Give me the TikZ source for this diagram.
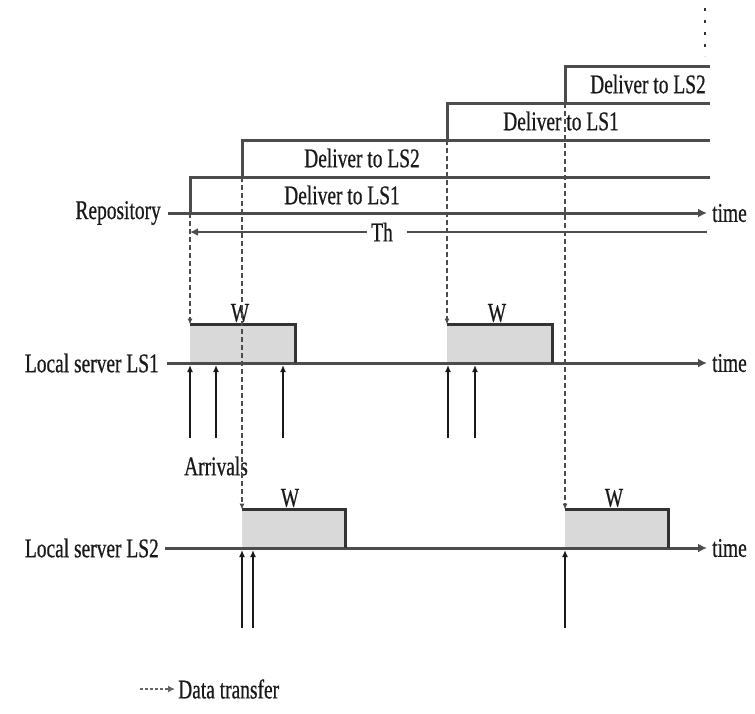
\documentclass[tikz,border=0pt]{standalone}
\usepackage{fontspec}
\setmainfont{Liberation Serif}[FakeStretch=0.72,FakeBold=0.6]
\usetikzlibrary{arrows.meta}
\begin{document}
\begin{tikzpicture}[x=1pt,y=-1pt,
 lbl/.style={font=\fontsize{27}{29}\selectfont, inner sep=0pt, text=black!90},
 timeaxis/.style={draw=black!70, line width=3pt, -{Latex[length=9pt,width=9pt]}, shorten >=5pt},
 stepline/.style={draw=black!70, line width=3pt},
 xfer/.style={draw=black!70, line width=1.4pt, dash pattern=on 5pt off 3pt, -{Latex[length=6pt,width=5pt]}},
 arrival/.style={draw=black!90, line width=1.4pt, -{Latex[length=7pt,width=6pt]}},
 wbox/.style={fill=black!15, draw=none, inner sep=0pt, anchor=south west},
 wedge/.style={draw=black!80, line width=2.8pt},
]
\path[use as bounding box] (0,0) rectangle (755,713);

% ---------- Repository ----------
\node[lbl, anchor=east] (rep) at (161,213) {Repository};
\node[lbl, anchor=west] (rtime) at (712,213) {time};
\coordinate (r0) at (168,213);
\draw[timeaxis] (r0) -- (rtime.west);

% Th line
\node[lbl] (th) at (382,232) {Th};
\coordinate (thL) at (190,232);
\coordinate (thR) at (707,232);
\draw[stepline, line width=2.4pt, {Latex[length=8pt,width=8pt]}-, shorten >=4pt] (thL) -- (th.west);
\draw[stepline, line width=2.4pt, shorten <=14pt] (th.east) -- (thR);

% steps
\coordinate (s1a) at (190,213); \coordinate (s1b) at (190,177); \coordinate (s1c) at (710,177);
\coordinate (s2a) at (242,177); \coordinate (s2b) at (242,140); \coordinate (s2c) at (710,140);
\coordinate (s3a) at (447,140); \coordinate (s3b) at (447,103); \coordinate (s3c) at (710,103);
\coordinate (s4a) at (565,103); \coordinate (s4b) at (565,66);  \coordinate (s4c) at (710,66);
\draw[stepline] (s1a) -- (s1b) -- (s1c);
\draw[stepline] (s2a) -- (s2b) -- (s2c);
\draw[stepline] (s3a) -- (s3b) -- (s3c);
\draw[stepline] (s4a) -- (s4b) -- (s4c);
\node[lbl] (d1) at (342,195) {Deliver to LS1};
\node[lbl] (d2) at (362,158) {Deliver to LS2};
\node[lbl] (d3) at (561,121) {Deliver to LS1};
\node[lbl] (d4) at (648,84) {Deliver to LS2};

% dots on top
\coordinate (v0) at (705,8);
\coordinate (v1) at (705,56);
\draw[draw=black!80, line width=2.5pt, dash pattern=on 3pt off 9pt] (v0) -- (v1);

% ---------- Local server LS1 ----------
\node[lbl, anchor=east] (ls1) at (159,363) {Local server LS1};
\node[lbl, anchor=west] (t1) at (712,363) {time};
\coordinate (l10) at (167,363);

\node[wbox, minimum width=105pt, minimum height=38pt] (b1) at (190,363) {};
\node[wbox, minimum width=105pt, minimum height=38pt] (b2) at (447,363) {};
\draw[timeaxis] (l10) -- (t1.west);
\draw[wedge] (b1.north west) -- (b1.north east) -- (b1.south east);
\draw[wedge] (b2.north west) -- (b2.north east) -- (b2.south east);
\node[lbl] (w1) at (240,313) {W};
\node[lbl] (w2) at (497,313) {W};

% arrivals LS1
\foreach \i/\x in {1/190,2/216,3/283,4/448,5/475}{
  \coordinate (aa\i) at (\x,438);
  \coordinate (at\i) at (\x,365);
  \draw[arrival] (aa\i) -- (at\i);
}
\node[lbl] (arr) at (216,466) {Arrivals};

% ---------- Local server LS2 ----------
\node[lbl, anchor=east] (ls2) at (159,548) {Local server LS2};
\node[lbl, anchor=west] (t2) at (712,548) {time};
\coordinate (l20) at (165,548);
\node[wbox, minimum width=103pt, minimum height=38pt] (c1) at (242,548) {};
\node[wbox, minimum width=103pt, minimum height=38pt] (c2) at (565,548) {};
\draw[timeaxis] (l20) -- (t2.west);
\draw[wedge] (c1.north west) -- (c1.north east) -- (c1.south east);
\draw[wedge] (c2.north west) -- (c2.north east) -- (c2.south east);
\node[lbl] (w3) at (290,498) {W};
\node[lbl] (w4) at (614,498) {W};

\foreach \i/\x in {6/242,7/253,8/565}{
  \coordinate (aa\i) at (\x,628);
  \coordinate (at\i) at (\x,550);
  \draw[arrival] (aa\i) -- (at\i);
}

% ---------- data transfers ----------
\draw[xfer] (s1a) -- (b1.north west);
\draw[xfer] (s2a) -- (c1.north west);
\draw[xfer] (s3a) -- (b2.north west);
\draw[xfer] (s4a) -- (c2.north west);

% ---------- legend ----------
\node[lbl, anchor=west] (lgt) at (178,689) {Data transfer};
\coordinate (lg0) at (140,689);
\draw[draw=black!60, line width=1.8pt, dash pattern=on 2.5pt off 2.5pt, -{Latex[length=7pt,width=7pt]}, shorten >=3pt] (lg0) -- (lgt.west);
\end{tikzpicture}
\end{document}
